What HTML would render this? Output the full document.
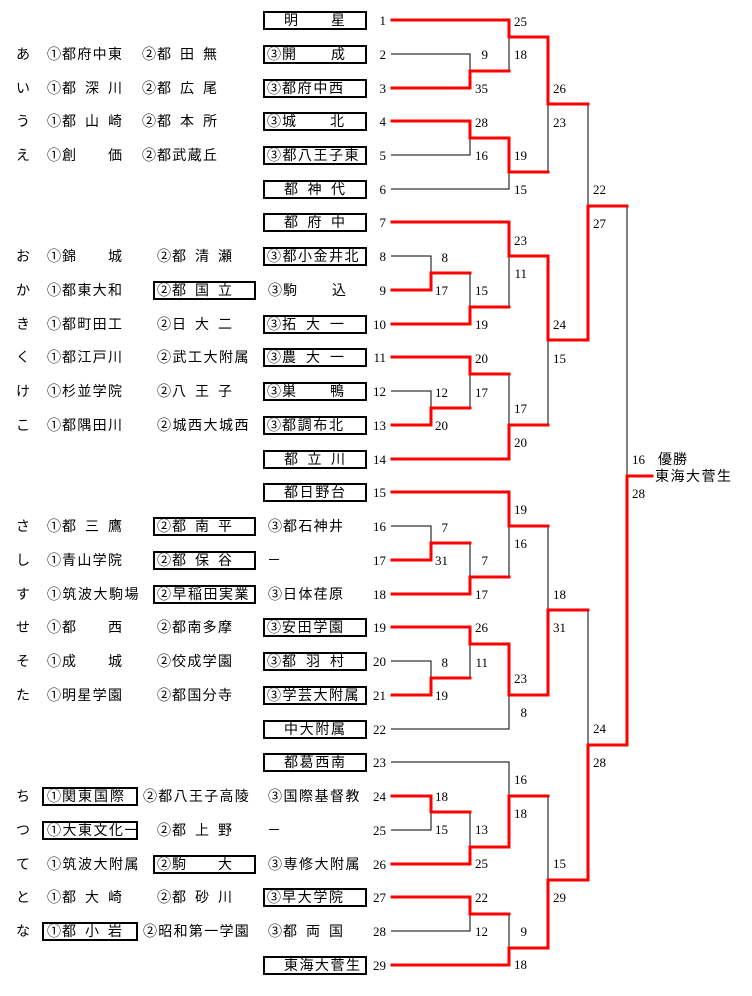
<!DOCTYPE html>
<html><head><meta charset="utf-8">
<style>
html,body{margin:0;padding:0;background:#fff;}
body{width:752px;height:996px;position:relative;overflow:hidden;font-family:"Liberation Sans","Noto Sans CJK JP",sans-serif;color:#000;}
.t{position:absolute;height:18px;line-height:18px;font-size:14px;white-space:nowrap;letter-spacing:1px;}
.f{display:flex;}
.f .r{flex:1;display:flex;justify-content:space-between;}
i{font-style:normal;}
.b{position:absolute;border:2px solid #000;box-sizing:border-box;height:19px;}
svg{position:absolute;left:0;top:0;}
</style></head><body>

<!-- boxes -->
<div class="b" style="left:263px;top:11px;width:104px"></div>
<div class="b" style="left:263px;top:45px;width:104px"></div>
<div class="b" style="left:263px;top:79px;width:104px"></div>
<div class="b" style="left:263px;top:112px;width:104px"></div>
<div class="b" style="left:263px;top:146px;width:104px"></div>
<div class="b" style="left:263px;top:180px;width:104px"></div>
<div class="b" style="left:263px;top:213px;width:104px"></div>
<div class="b" style="left:263px;top:247px;width:104px"></div>
<div class="b" style="left:153px;top:281px;width:103px"></div>
<div class="b" style="left:263px;top:315px;width:104px"></div>
<div class="b" style="left:263px;top:348px;width:104px"></div>
<div class="b" style="left:263px;top:382px;width:104px"></div>
<div class="b" style="left:263px;top:416px;width:104px"></div>
<div class="b" style="left:263px;top:450px;width:104px"></div>
<div class="b" style="left:263px;top:483px;width:104px"></div>
<div class="b" style="left:153px;top:517px;width:103px"></div>
<div class="b" style="left:153px;top:551px;width:103px"></div>
<div class="b" style="left:153px;top:585px;width:103px"></div>
<div class="b" style="left:263px;top:618px;width:104px"></div>
<div class="b" style="left:263px;top:652px;width:104px"></div>
<div class="b" style="left:263px;top:686px;width:104px"></div>
<div class="b" style="left:263px;top:720px;width:104px"></div>
<div class="b" style="left:263px;top:753px;width:104px"></div>
<div class="b" style="left:42px;top:787px;width:96px"></div>
<div class="b" style="left:42px;top:821px;width:96px"></div>
<div class="b" style="left:153px;top:855px;width:103px"></div>
<div class="b" style="left:263px;top:888px;width:104px"></div>
<div class="b" style="left:42px;top:922px;width:96px"></div>
<div class="b" style="left:263px;top:956px;width:104px"></div>

<div class="t f" style="left:284px;top:11px;width:62px"><span class="r"><i>明</i><i>星</i></span></div>
<div class="t" style="left:16px;top:45px">あ</div>
<div class="t f" style="left:47px;top:45px;width:76px"><span>①</span><span class="r"><i>都</i><i>府</i><i>中</i><i>東</i></span></div>
<div class="t f" style="left:142px;top:45px;width:76px"><span>②</span><span class="r"><i>都</i><i>田</i><i>無</i></span></div>
<div class="t f" style="left:267px;top:45px;width:79px"><span>③</span><span class="r"><i>開</i><i>成</i></span></div>
<div class="t" style="left:16px;top:79px">い</div>
<div class="t f" style="left:47px;top:79px;width:76px"><span>①</span><span class="r"><i>都</i><i>深</i><i>川</i></span></div>
<div class="t f" style="left:142px;top:79px;width:76px"><span>②</span><span class="r"><i>都</i><i>広</i><i>尾</i></span></div>
<div class="t f" style="left:267px;top:79px;width:77px"><span>③</span><span class="r"><i>都</i><i>府</i><i>中</i><i>西</i></span></div>
<div class="t" style="left:16px;top:112px">う</div>
<div class="t f" style="left:47px;top:112px;width:76px"><span>①</span><span class="r"><i>都</i><i>山</i><i>崎</i></span></div>
<div class="t f" style="left:142px;top:112px;width:76px"><span>②</span><span class="r"><i>都</i><i>本</i><i>所</i></span></div>
<div class="t f" style="left:267px;top:112px;width:78px"><span>③</span><span class="r"><i>城</i><i>北</i></span></div>
<div class="t" style="left:16px;top:146px">え</div>
<div class="t f" style="left:47px;top:146px;width:76px"><span>①</span><span class="r"><i>創</i><i>価</i></span></div>
<div class="t f" style="left:142px;top:146px;width:76px"><span>②</span><span class="r"><i>都</i><i>武</i><i>蔵</i><i>丘</i></span></div>
<div class="t" style="left:267px;top:146px;letter-spacing:1.5px">③都八王子東</div>
<div class="t f" style="left:284px;top:180px;width:62px"><span class="r"><i>都</i><i>神</i><i>代</i></span></div>
<div class="t f" style="left:284px;top:213px;width:62px"><span class="r"><i>都</i><i>府</i><i>中</i></span></div>
<div class="t" style="left:16px;top:247px">お</div>
<div class="t f" style="left:47px;top:247px;width:76px"><span>①</span><span class="r"><i>錦</i><i>城</i></span></div>
<div class="t f" style="left:157px;top:247px;width:76px"><span>②</span><span class="r"><i>都</i><i>清</i><i>瀬</i></span></div>
<div class="t" style="left:267px;top:247px;letter-spacing:1.5px">③都小金井北</div>
<div class="t" style="left:16px;top:281px">か</div>
<div class="t f" style="left:47px;top:281px;width:76px"><span>①</span><span class="r"><i>都</i><i>東</i><i>大</i><i>和</i></span></div>
<div class="t f" style="left:157px;top:281px;width:76px"><span>②</span><span class="r"><i>都</i><i>国</i><i>立</i></span></div>
<div class="t f" style="left:268px;top:281px;width:79px"><span>③</span><span class="r"><i>駒</i><i>込</i></span></div>
<div class="t" style="left:16px;top:315px">き</div>
<div class="t f" style="left:47px;top:315px;width:76px"><span>①</span><span class="r"><i>都</i><i>町</i><i>田</i><i>工</i></span></div>
<div class="t f" style="left:157px;top:315px;width:76px"><span>②</span><span class="r"><i>日</i><i>大</i><i>二</i></span></div>
<div class="t f" style="left:267px;top:315px;width:78px"><span>③</span><span class="r"><i>拓</i><i>大</i><i>一</i></span></div>
<div class="t" style="left:16px;top:348px">く</div>
<div class="t f" style="left:47px;top:348px;width:76px"><span>①</span><span class="r"><i>都</i><i>江</i><i>戸</i><i>川</i></span></div>
<div class="t" style="left:157px;top:348px;letter-spacing:1.5px">②武工大附属</div>
<div class="t f" style="left:267px;top:348px;width:78px"><span>③</span><span class="r"><i>農</i><i>大</i><i>一</i></span></div>
<div class="t" style="left:16px;top:382px">け</div>
<div class="t f" style="left:47px;top:382px;width:76px"><span>①</span><span class="r"><i>杉</i><i>並</i><i>学</i><i>院</i></span></div>
<div class="t f" style="left:157px;top:382px;width:76px"><span>②</span><span class="r"><i>八</i><i>王</i><i>子</i></span></div>
<div class="t f" style="left:267px;top:382px;width:78px"><span>③</span><span class="r"><i>巣</i><i>鴨</i></span></div>
<div class="t" style="left:16px;top:416px">こ</div>
<div class="t f" style="left:47px;top:416px;width:76px"><span>①</span><span class="r"><i>都</i><i>隅</i><i>田</i><i>川</i></span></div>
<div class="t" style="left:157px;top:416px;letter-spacing:1.5px">②城西大城西</div>
<div class="t f" style="left:267px;top:416px;width:77px"><span>③</span><span class="r"><i>都</i><i>調</i><i>布</i><i>北</i></span></div>
<div class="t f" style="left:284px;top:450px;width:62px"><span class="r"><i>都</i><i>立</i><i>川</i></span></div>
<div class="t f" style="left:284px;top:483px;width:62px"><span class="r"><i>都</i><i>日</i><i>野</i><i>台</i></span></div>
<div class="t" style="left:16px;top:517px">さ</div>
<div class="t f" style="left:47px;top:517px;width:76px"><span>①</span><span class="r"><i>都</i><i>三</i><i>鷹</i></span></div>
<div class="t f" style="left:157px;top:517px;width:76px"><span>②</span><span class="r"><i>都</i><i>南</i><i>平</i></span></div>
<div class="t f" style="left:268px;top:517px;width:76px"><span>③</span><span class="r"><i>都</i><i>石</i><i>神</i><i>井</i></span></div>
<div class="t" style="left:16px;top:551px">し</div>
<div class="t f" style="left:47px;top:551px;width:76px"><span>①</span><span class="r"><i>青</i><i>山</i><i>学</i><i>院</i></span></div>
<div class="t f" style="left:157px;top:551px;width:76px"><span>②</span><span class="r"><i>都</i><i>保</i><i>谷</i></span></div>
<div class="t" style="left:267px;top:551px">－</div>
<div class="t" style="left:16px;top:585px">す</div>
<div class="t" style="left:47px;top:585px;letter-spacing:1.5px">①筑波大駒場</div>
<div class="t" style="left:157px;top:585px;letter-spacing:1.5px">②早稲田実業</div>
<div class="t f" style="left:268px;top:585px;width:76px"><span>③</span><span class="r"><i>日</i><i>体</i><i>荏</i><i>原</i></span></div>
<div class="t" style="left:16px;top:618px">せ</div>
<div class="t f" style="left:47px;top:618px;width:76px"><span>①</span><span class="r"><i>都</i><i>西</i></span></div>
<div class="t f" style="left:157px;top:618px;width:76px"><span>②</span><span class="r"><i>都</i><i>南</i><i>多</i><i>摩</i></span></div>
<div class="t f" style="left:267px;top:618px;width:77px"><span>③</span><span class="r"><i>安</i><i>田</i><i>学</i><i>園</i></span></div>
<div class="t" style="left:16px;top:652px">そ</div>
<div class="t f" style="left:47px;top:652px;width:76px"><span>①</span><span class="r"><i>成</i><i>城</i></span></div>
<div class="t f" style="left:157px;top:652px;width:76px"><span>②</span><span class="r"><i>佼</i><i>成</i><i>学</i><i>園</i></span></div>
<div class="t f" style="left:267px;top:652px;width:78px"><span>③</span><span class="r"><i>都</i><i>羽</i><i>村</i></span></div>
<div class="t" style="left:16px;top:686px">た</div>
<div class="t f" style="left:47px;top:686px;width:76px"><span>①</span><span class="r"><i>明</i><i>星</i><i>学</i><i>園</i></span></div>
<div class="t f" style="left:157px;top:686px;width:76px"><span>②</span><span class="r"><i>都</i><i>国</i><i>分</i><i>寺</i></span></div>
<div class="t" style="left:267px;top:686px;letter-spacing:1.5px">③学芸大附属</div>
<div class="t f" style="left:284px;top:720px;width:62px"><span class="r"><i>中</i><i>大</i><i>附</i><i>属</i></span></div>
<div class="t f" style="left:284px;top:753px;width:62px"><span class="r"><i>都</i><i>葛</i><i>西</i><i>南</i></span></div>
<div class="t" style="left:16px;top:787px">ち</div>
<div class="t f" style="left:47px;top:787px;width:78px"><span>①</span><span class="r"><i>関</i><i>東</i><i>国</i><i>際</i></span></div>
<div class="t" style="left:143px;top:787px;letter-spacing:1.3px">②都八王子高陵</div>
<div class="t" style="left:268px;top:787px;letter-spacing:1.5px">③国際基督教</div>
<div class="t" style="left:16px;top:821px">つ</div>
<div class="t" style="left:47px;top:821px;letter-spacing:1.5px">①大東文化一</div>
<div class="t f" style="left:157px;top:821px;width:76px"><span>②</span><span class="r"><i>都</i><i>上</i><i>野</i></span></div>
<div class="t" style="left:267px;top:821px">－</div>
<div class="t" style="left:16px;top:855px">て</div>
<div class="t" style="left:47px;top:855px;letter-spacing:1.5px">①筑波大附属</div>
<div class="t f" style="left:157px;top:855px;width:76px"><span>②</span><span class="r"><i>駒</i><i>大</i></span></div>
<div class="t" style="left:268px;top:855px;letter-spacing:1.5px">③専修大附属</div>
<div class="t" style="left:16px;top:888px">と</div>
<div class="t f" style="left:47px;top:888px;width:76px"><span>①</span><span class="r"><i>都</i><i>大</i><i>崎</i></span></div>
<div class="t f" style="left:157px;top:888px;width:76px"><span>②</span><span class="r"><i>都</i><i>砂</i><i>川</i></span></div>
<div class="t f" style="left:267px;top:888px;width:77px"><span>③</span><span class="r"><i>早</i><i>大</i><i>学</i><i>院</i></span></div>
<div class="t" style="left:16px;top:922px">な</div>
<div class="t f" style="left:47px;top:922px;width:76px"><span>①</span><span class="r"><i>都</i><i>小</i><i>岩</i></span></div>
<div class="t" style="left:143px;top:922px;letter-spacing:1.3px">②昭和第一学園</div>
<div class="t f" style="left:268px;top:922px;width:76px"><span>③</span><span class="r"><i>都</i><i>両</i><i>国</i></span></div>
<div class="t" style="left:284px;top:956px;letter-spacing:1.5px">東海大菅生</div>

<div class="t" style="left:658px;top:450px">優勝</div>
<div class="t" style="left:655px;top:467px;letter-spacing:1.5px">東海大菅生</div>

<svg width="752" height="996" viewBox="0 0 752 996">
<g fill="none" stroke="#000" stroke-width="1" shape-rendering="crispEdges">
<path d="M391,54H470V71 M509,37V71 M391,155H470V138 M391,189H509V172 M548,104V172 M588,104V206"/>
<path d="M391,256H431V273 M470,273V307 M509,256V307 M391,391H431V408 M470,374V408 M509,374V425 M548,340V425"/>
<path d="M391,526H431V543 M470,543V577 M509,526V577 M391,661H431V678 M470,644V678 M391,729H509V695 M548,526V610 M588,610V745 M627,206V476"/>
<path d="M391,762H509V796 M391,830H431V812 M470,812V847 M391,931H470V914 M509,914V948 M548,796V880"/>
</g>
<g fill="none" stroke="#f00" stroke-width="3" stroke-linejoin="miter" stroke-linecap="square" shape-rendering="crispEdges">
<path d="M392,20H509V37H548V104H588"/>
<path d="M392,88H470V71H509"/>
<path d="M392,121H470V138H509V172H548"/>
<path d="M392,222H509V256H548V340H588V206H627"/>
<path d="M392,290H431V273H470"/>
<path d="M392,324H470V307H509"/>
<path d="M392,357H470V374H509"/>
<path d="M392,425H431V408H470"/>
<path d="M392,459H509V425H548"/>
<path d="M392,492H509V526H548"/>
<path d="M392,560H431V543H470"/>
<path d="M392,594H470V577H509"/>
<path d="M392,627H470V644H509V695H548V610H588"/>
<path d="M392,695H431V678H470"/>
<path d="M392,796H431V812H470"/>
<path d="M392,864H470V847H509V796H548"/>
<path d="M392,897H470V914H509"/>
<path d="M392,965H509V948H548V880H588V745H627V476H652"/>
</g>
<g font-family="Liberation Serif, serif" font-size="13" text-anchor="end" fill="#000">
<text x="386" y="25">1</text><text x="386" y="59">2</text><text x="386" y="93">3</text><text x="386" y="126">4</text><text x="386" y="160">5</text><text x="386" y="194">6</text><text x="386" y="227">7</text><text x="386" y="261">8</text><text x="386" y="295">9</text><text x="386" y="329">10</text><text x="386" y="362">11</text><text x="386" y="396">12</text><text x="386" y="430">13</text><text x="386" y="464">14</text><text x="386" y="497">15</text><text x="386" y="531">16</text><text x="386" y="565">17</text><text x="386" y="599">18</text><text x="386" y="632">19</text><text x="386" y="666">20</text><text x="386" y="700">21</text><text x="386" y="734">22</text><text x="386" y="767">23</text><text x="386" y="801">24</text><text x="386" y="835">25</text><text x="386" y="869">26</text><text x="386" y="902">27</text><text x="386" y="936">28</text><text x="386" y="970">29</text>

<text x="527" y="26">25</text><text x="488" y="59">9</text><text x="527" y="59">18</text><text x="488" y="93">35</text><text x="566" y="93">26</text><text x="488" y="127">28</text><text x="566" y="127">23</text><text x="488" y="160">16</text><text x="527" y="160">19</text><text x="527" y="194">15</text><text x="606" y="194">22</text><text x="606" y="228">27</text>
<text x="527" y="245">23</text><text x="448" y="262">8</text><text x="527" y="278">11</text><text x="448" y="295">17</text><text x="488" y="295">15</text><text x="488" y="329">19</text><text x="566" y="329">24</text><text x="488" y="363">20</text><text x="566" y="363">15</text><text x="448" y="397">12</text><text x="488" y="397">17</text><text x="527" y="413">17</text><text x="448" y="430">20</text><text x="527" y="447">20</text><text x="645" y="464">16</text><text x="645" y="498">28</text>
<text x="527" y="514">19</text><text x="448" y="532">7</text><text x="527" y="548">16</text><text x="448" y="565">31</text><text x="488" y="565">7</text><text x="488" y="599">17</text><text x="566" y="599">18</text><text x="488" y="632">26</text><text x="566" y="632">31</text><text x="448" y="667">8</text><text x="488" y="667">11</text><text x="527" y="683">23</text><text x="448" y="700">19</text><text x="527" y="717">8</text><text x="606" y="733">24</text>
<text x="606" y="767">28</text><text x="527" y="784">16</text><text x="448" y="801">18</text><text x="527" y="818">18</text><text x="448" y="834">15</text><text x="488" y="834">13</text><text x="488" y="868">25</text><text x="566" y="868">15</text><text x="488" y="902">22</text><text x="566" y="902">29</text><text x="488" y="936">12</text><text x="527" y="936">9</text><text x="527" y="969">18</text>
</g>
</svg>
</body></html>
